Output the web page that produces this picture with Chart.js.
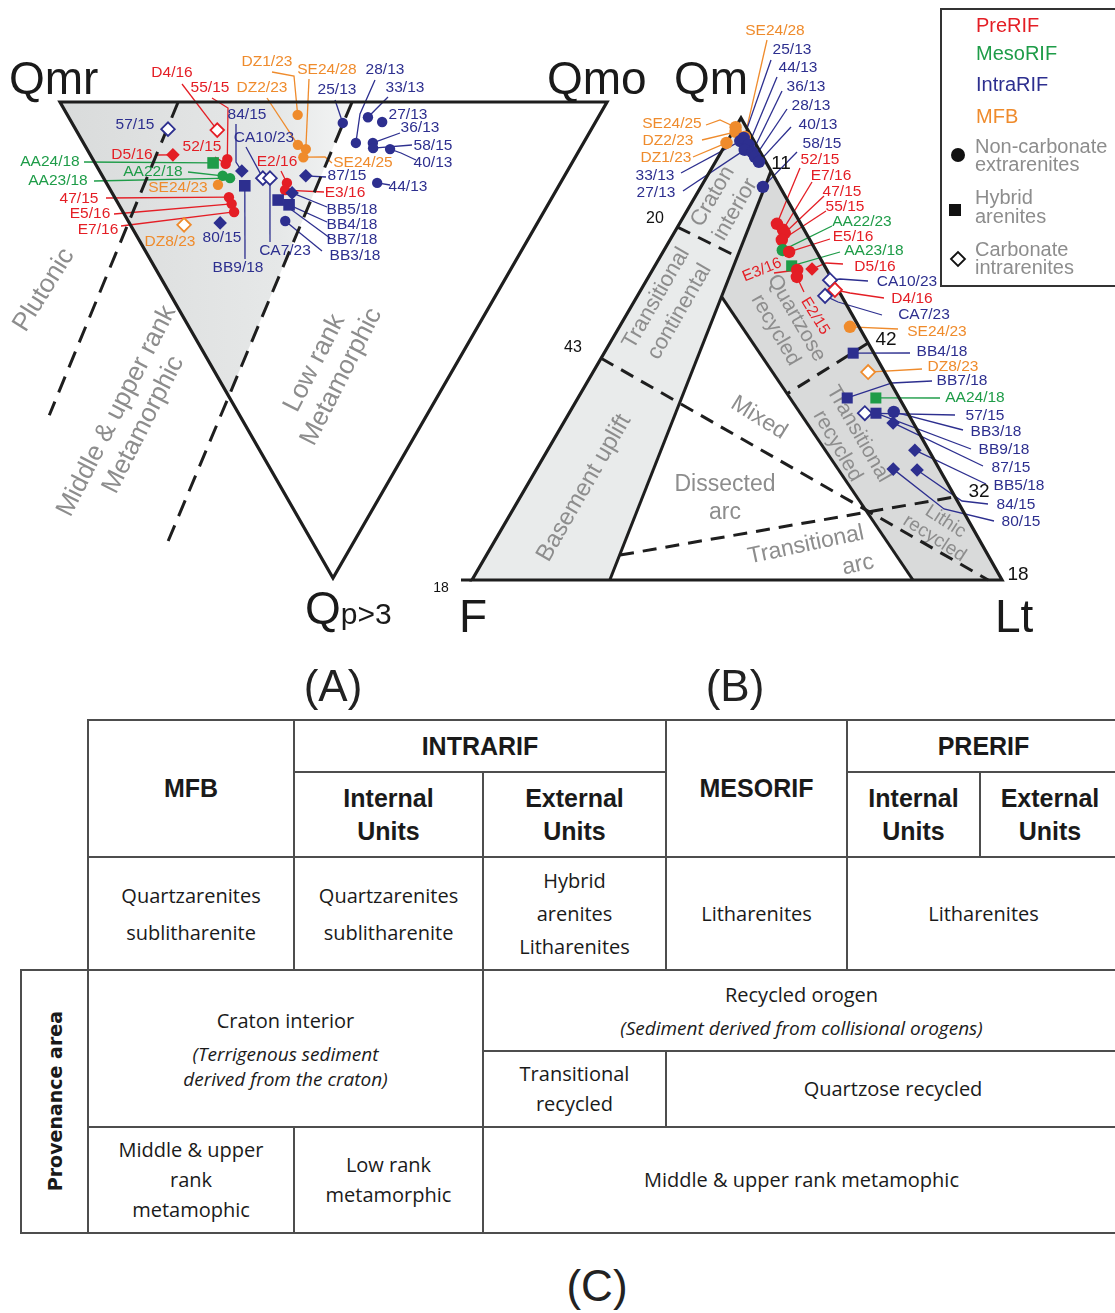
<!DOCTYPE html>
<html>
<head>
<meta charset="utf-8">
<script src="https://cdn.jsdelivr.net/npm/chart.js@4.4.0/dist/chart.umd.min.js"></script>
<style>
  html, body { margin: 0; padding: 0; background: #fff; width: 1115px; height: 1313px; overflow: hidden; }
  #plots { position: absolute; left: 0; top: 0; }
  table.prov { position: absolute; left: 20px; top: 719px; width: 1099px; border-collapse: collapse; table-layout: fixed;
    font-family: "Open Sans", sans-serif; font-size: 20px; color: #1a1a1a; }
  .prov td { border: 2px solid #4d4d4d; text-align: center; vertical-align: middle; padding: 0; line-height: 30px; }
  .prov td.nb { border: none; }
  .prov td.hd { font-family: "Liberation Sans", Arial, sans-serif; font-weight: bold; font-size: 25px; line-height: 33px; }
  .prov tr.r3 td { line-height: 37px; }
  .prov tr.r3 td.hy { line-height: 33px; }
  .prov .it { font-style: italic; font-size: 19px; line-height: 25px; margin-top: 6px; }
  .prov td.side div { writing-mode: vertical-rl; transform: rotate(180deg); font-family: "DejaVu Sans", sans-serif;
    font-weight: bold; font-size: 19px; margin: auto; }
  #capC { position: absolute; left: 0; top: 1259px; width: 1194px; text-align: center;
    font-family: "Liberation Sans", Arial, sans-serif; font-size: 44px; line-height: 54px; color: #222; }
</style>
</head>
<body>
<canvas id="plots" width="1115" height="712"></canvas>

<table class="prov">
  <colgroup>
    <col style="width:67px"><col style="width:206px"><col style="width:189px"><col style="width:183px">
    <col style="width:181px"><col style="width:133px"><col style="width:140px">
  </colgroup>
  <tr style="height:52px"><td class="nb"></td><td class="hd" rowspan="2">MFB</td><td class="hd" colspan="2">INTRARIF</td><td class="hd" rowspan="2">MESORIF</td><td class="hd" colspan="2">PRERIF</td></tr>
  <tr style="height:85px"><td class="nb"></td><td class="hd">Internal<br>Units</td><td class="hd">External<br>Units</td><td class="hd">Internal<br>Units</td><td class="hd">External<br>Units</td></tr>
  <tr class="r3" style="height:113px"><td class="nb"></td><td>Quartzarenites<br>sublitharenite</td><td>Quartzarenites<br>sublitharenite</td><td class="hy">Hybrid<br>arenites<br>Litharenites</td><td>Litharenites</td><td colspan="2">Litharenites</td></tr>
  <tr style="height:81px"><td class="side" rowspan="3"><div>Provenance area</div></td><td colspan="2" rowspan="2">Craton interior<div class="it">(Terrigenous sediment<br>derived from the craton)</div></td><td colspan="4">Recycled orogen<div class="it">(Sediment derived from collisional orogens)</div></td></tr>
  <tr style="height:76px"><td>Transitional<br>recycled</td><td colspan="3">Quartzose recycled</td></tr>
  <tr style="height:106px"><td>Middle &amp; upper<br>rank<br>metamophic</td><td>Low rank<br>metamorphic</td><td colspan="4">Middle &amp; upper rank metamophic</td></tr>
</table>
<div id="capC">(C)</div>

<script>
// ---- diagram A : Qmr - Qmo - Qp>3 (percent) ----
const samplesA = ['D4/16', '55/15', '52/15', 'D5/16', '47/15', 'E5/16', 'E7/16', 'E2/16', 'E3/16',
  'AA24/18', 'AA22/18', 'AA23/18',
  'DZ1/23', 'DZ2/23', 'SE24/28', 'SE24/25', 'SE24/23', 'DZ8/23',
  '57/15', '84/15', 'BB9/18', '80/15', 'CA10/23', 'CA7/23', '87/15', 'BB5/18', 'BB4/18', 'BB7/18', 'BB3/18',
  '25/13', '28/13', '33/13', '27/13', '36/13', '58/15', '40/13', '44/13'];
const groupsA = ['PreRIF', 'PreRIF', 'PreRIF', 'PreRIF', 'PreRIF', 'PreRIF', 'PreRIF', 'PreRIF', 'PreRIF',
  'MesoRIF', 'MesoRIF', 'MesoRIF',
  'MFB', 'MFB', 'MFB', 'MFB', 'MFB', 'MFB',
  'IntraRIF', 'IntraRIF', 'IntraRIF', 'IntraRIF', 'IntraRIF', 'IntraRIF', 'IntraRIF', 'IntraRIF', 'IntraRIF', 'IntraRIF', 'IntraRIF',
  'IntraRIF', 'IntraRIF', 'IntraRIF', 'IntraRIF', 'IntraRIF', 'IntraRIF', 'IntraRIF', 'IntraRIF'];
const shapesA = ['open', 'circle', 'circle', 'diamond', 'circle', 'circle', 'circle', 'circle', 'circle',
  'square', 'circle', 'circle',
  'circle', 'circle', 'circle', 'circle', 'circle', 'open',
  'open', 'diamond', 'square', 'diamond', 'open', 'open', 'diamond', 'diamond', 'square', 'square', 'circle',
  'circle', 'circle', 'circle', 'circle', 'circle', 'circle', 'circle', 'circle'];
const qmrA = [68.3, 63.4, 63.2, 73.8, 59.1, 57.9, 56.6, 50.0, 49.6,
  65.6, 62.5, 60.9,
  55.2, 52.0, 50.1, 49.7, 62.4, 64.4,
  77.4, 59.5, 57.4, 58.0, 54.9, 53.6, 47.3, 48.0, 47.3, 49.8, 46.3,
  46.1, 41.6, 42.1, 39.0, 38.5, 37.9, 34.7, 33.5];
const qmoA = [25.8, 24.6, 23.8, 15.1, 20.9, 20.7, 20.3, 33.0, 31.9,
  21.6, 22.0, 23.1,
  42.1, 39.0, 40.0, 38.7, 20.2, 9.8,
  16.9, 26.0, 25.0, 16.6, 29.1, 30.4, 37.2, 32.9, 31.1, 29.6, 28.7,
  49.5, 49.8, 54.7, 56.8, 52.9, 52.4, 55.4, 49.5];
const qpA = [5.9, 12.0, 13.0, 11.1, 20.0, 21.4, 23.1, 17.0, 18.5,
  12.8, 15.5, 16.0,
  2.7, 9.0, 9.9, 11.6, 17.4, 25.8,
  5.7, 14.5, 17.6, 25.4, 16.0, 16.0, 15.5, 19.1, 21.6, 20.6, 25.0,
  4.4, 8.6, 3.2, 4.2, 8.6, 9.7, 9.9, 17.0];

// ---- diagram B : Qm - F - Lt (percent) ----
const samplesB = ['SE24/28', 'SE24/25', 'DZ2/23', 'DZ1/23',
  '33/13', '25/13', '44/13', '27/13', '36/13', '28/13', '40/13', '58/15',
  '52/15', 'E7/16', '47/15', '55/15', 'AA22/23', 'E5/16', 'AA23/18', 'E3/16', 'E2/15', 'D5/16',
  'CA10/23', 'D4/16', 'CA7/23', 'SE24/23', 'BB4/18', 'DZ8/23', 'BB7/18', 'AA24/18',
  '57/15', 'BB9/18', 'BB3/18', '87/15', 'BB5/18', '84/15', '80/15'];
const groupsB = ['MFB', 'MFB', 'MFB', 'MFB',
  'IntraRIF', 'IntraRIF', 'IntraRIF', 'IntraRIF', 'IntraRIF', 'IntraRIF', 'IntraRIF', 'IntraRIF',
  'PreRIF', 'PreRIF', 'PreRIF', 'PreRIF', 'MesoRIF', 'PreRIF', 'MesoRIF', 'PreRIF', 'PreRIF', 'PreRIF',
  'IntraRIF', 'PreRIF', 'IntraRIF', 'MFB', 'IntraRIF', 'MFB', 'IntraRIF', 'MesoRIF',
  'IntraRIF', 'IntraRIF', 'IntraRIF', 'IntraRIF', 'IntraRIF', 'IntraRIF', 'IntraRIF'];
const shapesB = ['circle', 'circle', 'circle', 'circle',
  'circle', 'circle', 'circle', 'circle', 'circle', 'circle', 'circle', 'circle',
  'circle', 'circle', 'circle', 'circle', 'circle', 'circle', 'square', 'circle', 'circle', 'diamond',
  'open', 'open', 'open', 'circle', 'square', 'open', 'square', 'square',
  'open', 'square', 'circle', 'diamond', 'diamond', 'diamond', 'diamond'];
const qmB = [95.9, 98.0, 97.0, 94.6,
  95.0, 95.7, 94.2, 93.1, 92.6, 91.6, 90.5, 85.1,
  77.1, 75.8, 75.1, 73.6, 71.4, 71.0, 68.0, 67.1, 65.6, 67.3,
  64.9, 62.8, 61.5, 54.8, 49.1, 45.0, 39.4, 39.4,
  36.1, 36.1, 36.4, 34.0, 28.1, 23.8, 24.0];
const fB = [1.3, 2.0, 2.5, 5.4,
  2.6, 1.6, 1.4, 2.7, 1.5, 1.5, 1.3, 3.2,
  4.5, 4.0, 4.0, 5.3, 6.2, 5.2, 6.2, 5.6, 6.4, 2.7,
  0.5, 0.6, 3.1, 1.7, 3.9, 3.1, 9.8, 4.4,
  8.1, 6.0, 2.5, 3.8, 2.6, 4.3, 8.7];
const ltB = [2.8, 0.0, 0.5, 0.0,
  2.4, 2.7, 4.4, 4.2, 5.9, 6.9, 8.2, 11.7,
  18.4, 20.2, 20.9, 21.1, 22.4, 23.8, 25.8, 27.3, 28.0, 30.0,
  34.6, 36.6, 35.4, 43.5, 47.0, 51.9, 50.8, 56.2,
  55.8, 57.9, 61.1, 62.2, 69.3, 71.9, 67.3];

// ---- field boundaries (ternary percent) ----
const triangleA = [[100, 0, 0], [0, 100, 0], [0, 0, 100], [100, 0, 0], [0, 100, 0]];
const plutonicLineA = [[78.4, 21.6, 0], [69.0, -34.8, 65.8]];
const lowRankLineA = [[46.6, 53.4, 0], [34.0, -26.4, 92.4]];
const shadeA = [[100, 0, 0], [46.6, 53.4, 0], [38.2, 0, 61.8]];

const triangleB = [[100, 0, 0], [0, 100, 0], [0, 0, 100], [100, 0, 0], [0, 100, 0]];
const continentalLineB = [[88.5, 0, 11.5], [0, 74, 26]];
const recycledLineB = [[61.3, 22.7, 16.0], [0, 16.8, 83.2]];
const cratonLineB = [[76.4, 23.6, 0], [69.9, 15.4, 14.7]];
const mixedLineB = [[48, 52, 0], [0, 2.6, 97.4]];
const arcLineB = [[5.4, 69.4, 25.2], [18, 0, 82]];
const quartzoseLineB = [[51.3, 0, 48.7], [40.3, 20.7, 39.0]];
const shadeContinentB = [[0, 100, 0], [100, 0, 0], [88.5, 0, 11.5], [0, 74, 26]];
const shadeRecycledB = [[88.5, 0, 11.5], [0, 0, 100], [0, 16.8, 83.2], [61.3, 22.7, 16.0]];

// ---- layout ----
const colorOf = { PreRIF: '#e41e25', MesoRIF: '#1e9c48', IntraRIF: '#2d2f8f', MFB: '#ef8b2c' };
const FONT = '"Liberation Sans", Arial, sans-serif';
const GREY = '#8d8d8d';

// vertex placement of each triangle on the value grid
const frameA = { qmr: [60, 102], qmo: [607, 102], qp: [333, 578] };
const frameB = { qm: [741, 118], f: [472, 580], lt: [1002, 580] };

function ternA(r, o, p) {
  const s = r + o + p;
  return { x: (r * frameA.qmr[0] + o * frameA.qmo[0] + p * frameA.qp[0]) / s,
           y: (r * frameA.qmr[1] + o * frameA.qmo[1] + p * frameA.qp[1]) / s };
}
function ternB(q, f, l) {
  const s = q + f + l;
  return { x: (q * frameB.qm[0] + f * frameB.f[0] + l * frameB.lt[0]) / s,
           y: (q * frameB.qm[1] + f * frameB.f[1] + l * frameB.lt[1]) / s };
}

const coordsA = samplesA.map((s, i) => ternA(qmrA[i], qmoA[i], qpA[i]));
const coordsB = samplesB.map((s, i) => ternB(qmB[i], fB[i], ltB[i]));

// label centre + leader bend points (toward the marker), optional rotation
const labelPosA = {
  'D4/16': [172, 73, [[182, 84]]], '55/15': [210, 88, [[212, 98], [228, 108]]], '52/15': [202, 147, [[215, 157]]],
  'D5/16': [132, 155, [[155, 155]]], 'AA24/18': [50, 162, [[84, 162]]], 'AA22/18': [153, 172, [[188, 172]]],
  'AA23/18': [58, 181, [[94, 181]]], 'SE24/23': [178, 188, []], '47/15': [79, 199, [[106, 198]]],
  'E5/16': [90, 214, [[114, 214]]], 'E7/16': [98, 230, [[121, 226]]], 'DZ8/23': [170, 242, []],
  '80/15': [222, 238, []], '57/15': [135, 125, []], '84/15': [247, 115, [[236, 124], [236, 162]]],
  'BB9/18': [238, 268, [[245, 259]]], 'CA10/23': [264, 138, [[246, 147]]], 'CA7/23': [285, 251, [[270, 242]]],
  'E2/16': [277, 162, [[281, 171]]], 'E3/16': [345, 193, [[324, 192]]], 'DZ1/23': [267, 62, [[272, 72], [294, 76]]],
  'DZ2/23': [262, 88, [[267, 98]]], 'SE24/28': [327, 70, [[309, 79]]], 'SE24/25': [363, 163, [[332, 163], [325, 157]]],
  '25/13': [337, 90, [[335, 100]]], '28/13': [385, 70, [[375, 80], [360, 114]]], '33/13': [405, 88, [[388, 97]]],
  '27/13': [408, 115, []], '36/13': [420, 128, [[400, 133]]], '58/15': [433, 146, [[412, 145]]],
  '40/13': [433, 163, [[416, 160], [401, 153]]], '87/15': [347, 176, [[326, 177]]], '44/13': [408, 187, [[390, 185]]],
  'BB5/18': [352, 210, [[327, 207]]], 'BB4/18': [352, 225, [[327, 222]]], 'BB7/18': [352, 240, [[330, 238]]],
  'BB3/18': [355, 256, [[322, 251]]]
};
const labelPosB = {
  'SE24/28': [775, 31, [[767, 40]]], '25/13': [792, 50, [[771, 60]]], '44/13': [798, 68, [[777, 77]]],
  '36/13': [806, 87, [[782, 91]]], '28/13': [811, 106, [[787, 109]]], '40/13': [818, 125, [[791, 127]]],
  '58/15': [822, 144, [[797, 152]]], 'SE24/25': [672, 124, [[706, 125], [720, 120]]], 'DZ2/23': [668, 141, [[702, 140]]],
  'DZ1/23': [666, 158, [[693, 157]]], '33/13': [655, 176, [[681, 173]]], '27/13': [656, 193, [[683, 191]]],
  '52/15': [820, 160, [[800, 168]]], 'E7/16': [831, 176, [[812, 182]]], '47/15': [842, 192, [[824, 196]]],
  '55/15': [845, 207, [[826, 211]]], 'AA22/23': [862, 222, [[832, 226]]], 'E5/16': [853, 237, [[830, 239]]],
  'AA23/18': [874, 251, [[840, 252]]], 'D5/16': [875, 267, [[843, 264], [826, 263]]],
  'E3/16': [762, 270, [[774, 273]], -22], 'E2/15': [815, 316, [[804, 292]], 58],
  'CA10/23': [907, 282, [[868, 281], [840, 279]]], 'D4/16': [912, 299, [[884, 298], [850, 293]]],
  'CA7/23': [924, 315, [[882, 315], [838, 302]]], 'SE24/23': [937, 332, [[898, 329]]], 'BB4/18': [942, 352, [[910, 353]]],
  'DZ8/23': [953, 367, [[922, 369]]], 'BB7/18': [962, 381, [[932, 381], [892, 383]]], 'AA24/18': [975, 398, [[940, 398]]],
  '57/15': [985, 416, [[955, 415]]], 'BB3/18': [996, 432, [[963, 430]]], 'BB9/18': [1004, 450, [[971, 449]]],
  '87/15': [1011, 468, [[983, 466]]], 'BB5/18': [1019, 486, [[986, 484]]], '84/15': [1016, 505, [[988, 504], [962, 501]]],
  '80/15': [1021, 522, [[994, 521], [944, 509]]]
};

// field names: [lines, x, y, rotation, size, line gap]
const regionsA = [
  [['Plutonic'], 44, 290, -58, 26, 0],
  [['Middle & upper rank', 'Metamorphic'], 130, 418, -63, 26, 30],
  [['Low rank', 'Metamorphic'], 328, 370, -63, 26, 30]
];
const regionsB = [
  [['Craton', 'interior'], 724, 203, -60, 22, 26],
  [['Transitional', 'continental'], 668, 305, -60, 22, 27],
  [['Basement uplift'], 584, 488, -60, 24, 0],
  [['Quartzose', 'recycled'], 786, 324, 60, 21, 24],
  [['Transitional', 'recycled'], 848, 440, 60, 21, 24],
  [['Lithic', 'recycled'], 940, 530, 33, 19, 20],
  [['Mixed'], 759, 418, 32, 23, 0],
  [['Dissected', 'arc'], 725, 499, 0, 23, 28],
  [['Transitional'], 806, 545, -12, 23, 0],
  [['arc'], 858, 565, -12, 23, 0]
];
const tickLabels = [['20', 655, 219, 16], ['43', 573, 348, 16], ['18', 441, 588, 14], ['18', 1018, 575, 19],
  ['11', 781, 164, 19], ['42', 886, 340, 19], ['32', 979, 492, 19]];
const legendGroups = ['PreRIF', 'MesoRIF', 'IntraRIF', 'MFB'];

function pointSet(groups, shapes, coords, size) {
  return {
    data: coords, order: 0, clip: false,
    pointStyle: c => shapes[c.dataIndex] === 'circle' ? 'circle' : (shapes[c.dataIndex] === 'square' ? 'rect' : 'rectRot'),
    pointRadius: c => size[shapes[c.dataIndex]],
    pointBackgroundColor: c => shapes[c.dataIndex] === 'open' ? '#ffffff' : colorOf[groups[c.dataIndex]],
    pointBorderColor: c => colorOf[groups[c.dataIndex]],
    pointBorderWidth: c => shapes[c.dataIndex] === 'open' ? 1.8 : 0
  };
}
function lineSet(pts, dash, width) {
  return { data: pts, showLine: true, order: 2, clip: false, borderColor: '#1e1e1e', borderWidth: width,
    borderDash: dash, borderJoinStyle: 'miter', borderCapStyle: 'butt', pointRadius: 0, fill: false, tension: 0 };
}

const toPx = (chart, p) => ({ x: chart.scales.x.getPixelForValue(p.x), y: chart.scales.y.getPixelForValue(p.y) });

function fillPoly(chart, pts, style) {
  const ctx = chart.ctx;
  ctx.beginPath();
  pts.forEach((p, i) => { const q = toPx(chart, p); if (i) ctx.lineTo(q.x, q.y); else ctx.moveTo(q.x, q.y); });
  ctx.closePath();
  ctx.fillStyle = style;
  ctx.fill();
}

function drawBlock(chart, r) {
  const ctx = chart.ctx;
  const c = toPx(chart, { x: r[1], y: r[2] });
  ctx.save();
  ctx.translate(c.x, c.y);
  ctx.rotate(r[3] * Math.PI / 180);
  ctx.font = r[4] + 'px ' + FONT;
  ctx.fillStyle = GREY;
  ctx.textAlign = 'center';
  ctx.textBaseline = 'middle';
  const off = (r[0].length - 1) * r[5] / 2;
  r[0].forEach((t, i) => ctx.fillText(t, 0, i * r[5] - off));
  ctx.restore();
}

function drawLeaders(chart, names, groups, coords, layout) {
  const ctx = chart.ctx;
  ctx.lineWidth = 1.3;
  names.forEach((n, i) => {
    const lab = layout[n];
    if (!lab || !lab[2].length) return;
    ctx.strokeStyle = colorOf[groups[i]];
    ctx.beginPath();
    lab[2].forEach((b, k) => { const q = toPx(chart, { x: b[0], y: b[1] }); if (k) ctx.lineTo(q.x, q.y); else ctx.moveTo(q.x, q.y); });
    const end = toPx(chart, coords[i]);
    ctx.lineTo(end.x, end.y);
    ctx.stroke();
  });
}

function drawNames(chart, names, groups, layout) {
  const ctx = chart.ctx;
  names.forEach((n, i) => {
    const lab = layout[n];
    if (!lab) return;
    const c = toPx(chart, { x: lab[0], y: lab[1] });
    ctx.save();
    ctx.translate(c.x, c.y);
    if (lab[3]) ctx.rotate(lab[3] * Math.PI / 180);
    ctx.font = '15.5px ' + FONT;
    ctx.fillStyle = colorOf[groups[i]];
    ctx.textAlign = 'center';
    ctx.textBaseline = 'middle';
    ctx.fillText(n, 0, 0);
    ctx.restore();
  });
}

function drawLegend(ctx) {
  ctx.save();
  ctx.strokeStyle = '#333';
  ctx.lineWidth = 2;
  ctx.strokeRect(941, 9, 200, 277);
  ctx.font = '20px ' + FONT;
  ctx.textAlign = 'left';
  ctx.textBaseline = 'middle';
  legendGroups.forEach((g, i) => { ctx.fillStyle = colorOf[g]; ctx.fillText(g, 976, [26, 54, 85, 117][i]); });
  ctx.fillStyle = GREY;
  [['Non-carbonate', 147], ['extrarenites', 165], ['Hybrid', 198], ['arenites', 217], ['Carbonate', 250], ['intrarenites', 268]]
    .forEach(t => ctx.fillText(t[0], 975, t[1]));
  ctx.fillStyle = '#111';
  ctx.beginPath(); ctx.arc(958, 155, 7, 0, 2 * Math.PI); ctx.fill();
  ctx.fillRect(949, 204, 12, 12);
  ctx.strokeStyle = '#111'; ctx.lineWidth = 1.8;
  ctx.beginPath(); ctx.moveTo(951, 259); ctx.lineTo(958, 252); ctx.lineTo(965, 259); ctx.lineTo(958, 266); ctx.closePath();
  ctx.fillStyle = '#fff'; ctx.fill(); ctx.stroke();
  ctx.restore();
}

const drawPlugin = {
  id: 'ternaryDecor',
  beforeDatasetsDraw(chart) {
    const ctx = chart.ctx;
    ctx.save();
    // field shading
    const a0 = toPx(chart, ternA(...shadeA[0])), a1 = toPx(chart, ternA(...shadeA[1]));
    const grad = ctx.createLinearGradient(a0.x, 0, a1.x, 0);
    grad.addColorStop(0, '#d9dbdb');
    grad.addColorStop(0.75, '#e6e8e8');
    grad.addColorStop(1, '#f3f4f4');
    fillPoly(chart, shadeA.map(t => ternA(...t)), grad);
    fillPoly(chart, shadeContinentB.map(t => ternB(...t)), '#e9ebeb');
    fillPoly(chart, shadeRecycledB.map(t => ternB(...t)), '#d9dada');
    regionsA.forEach(r => drawBlock(chart, r));
    regionsB.forEach(r => drawBlock(chart, r));
    drawLeaders(chart, samplesA, groupsA, coordsA, labelPosA);
    drawLeaders(chart, samplesB, groupsB, coordsB, labelPosB);
    ctx.restore();
  },
  afterDatasetsDraw(chart) {
    const ctx = chart.ctx;
    ctx.save();
    drawNames(chart, samplesA, groupsA, labelPosA);
    drawNames(chart, samplesB, groupsB, labelPosB);

    // tick numbers and the small tick at F
    ctx.fillStyle = '#111';
    ctx.textAlign = 'center';
    ctx.textBaseline = 'middle';
    tickLabels.forEach(t => { ctx.font = t[3] + 'px ' + FONT; const c = toPx(chart, { x: t[1], y: t[2] }); ctx.fillText(t[0], c.x, c.y); });
    const fv = toPx(chart, ternB(0, 100, 0));
    ctx.strokeStyle = '#1e1e1e'; ctx.lineWidth = 3;
    ctx.beginPath(); ctx.moveTo(fv.x - 11, fv.y); ctx.lineTo(fv.x, fv.y); ctx.stroke();

    // apex names
    ctx.textAlign = 'left';
    ctx.textBaseline = 'alphabetic';
    ctx.fillStyle = '#1a1a1a';
    ctx.font = '46px ' + FONT;
    [['Qmr', 9, 94], ['Qmo', 547, 94], ['Qm', 674, 94], ['F', 459, 632], ['Lt', 995, 632], ['Q', 305, 624]]
      .forEach(t => ctx.fillText(t[0], t[1], t[2]));
    const qw = ctx.measureText('Q').width;
    ctx.font = '30px ' + FONT;
    ctx.fillText('p>3', 305 + qw, 624);

    // panel letters
    ctx.font = '44px ' + FONT;
    ctx.textAlign = 'center';
    ctx.fillStyle = '#222';
    ctx.fillText('(A)', 333, 701);
    ctx.fillText('(B)', 735, 701);

    drawLegend(ctx);
    ctx.restore();
  }
};

const sizeA = { circle: 5.2, square: 8.2, diamond: 6.8, open: 6.8 };
const sizeB = { circle: 6.2, square: 7.8, diamond: 6.8, open: 7 };

new Chart(document.getElementById('plots'), {
  type: 'scatter',
  data: {
    datasets: [
      pointSet(groupsB, shapesB, coordsB, sizeB),
      pointSet(groupsA, shapesA, coordsA, sizeA),
      lineSet(triangleA.map(t => ternA(...t)), [], 3.2),
      lineSet(plutonicLineA.map(t => ternA(...t)), [17, 10], 3),
      lineSet(lowRankLineA.map(t => ternA(...t)), [17, 10], 3),
      lineSet(triangleB.map(t => ternB(...t)), [], 3.2),
      lineSet(continentalLineB.map(t => ternB(...t)), [], 3),
      lineSet(recycledLineB.map(t => ternB(...t)), [], 3),
      lineSet(cratonLineB.map(t => ternB(...t)), [14, 9], 3),
      lineSet(mixedLineB.map(t => ternB(...t)), [14, 9], 3),
      lineSet(arcLineB.map(t => ternB(...t)), [14, 9], 3),
      lineSet(quartzoseLineB.map(t => ternB(...t)), [14, 9], 3)
    ]
  },
  options: {
    responsive: false,
    animation: false,
    events: [],
    layout: { padding: 0, autoPadding: false },
    scales: {
      x: { type: 'linear', min: 0, max: 1115, display: false },
      y: { type: 'linear', min: 0, max: 712, reverse: true, display: false }
    },
    plugins: { legend: { display: false }, tooltip: { enabled: false } }
  },
  plugins: [drawPlugin]
});
</script>
</body>
</html>
